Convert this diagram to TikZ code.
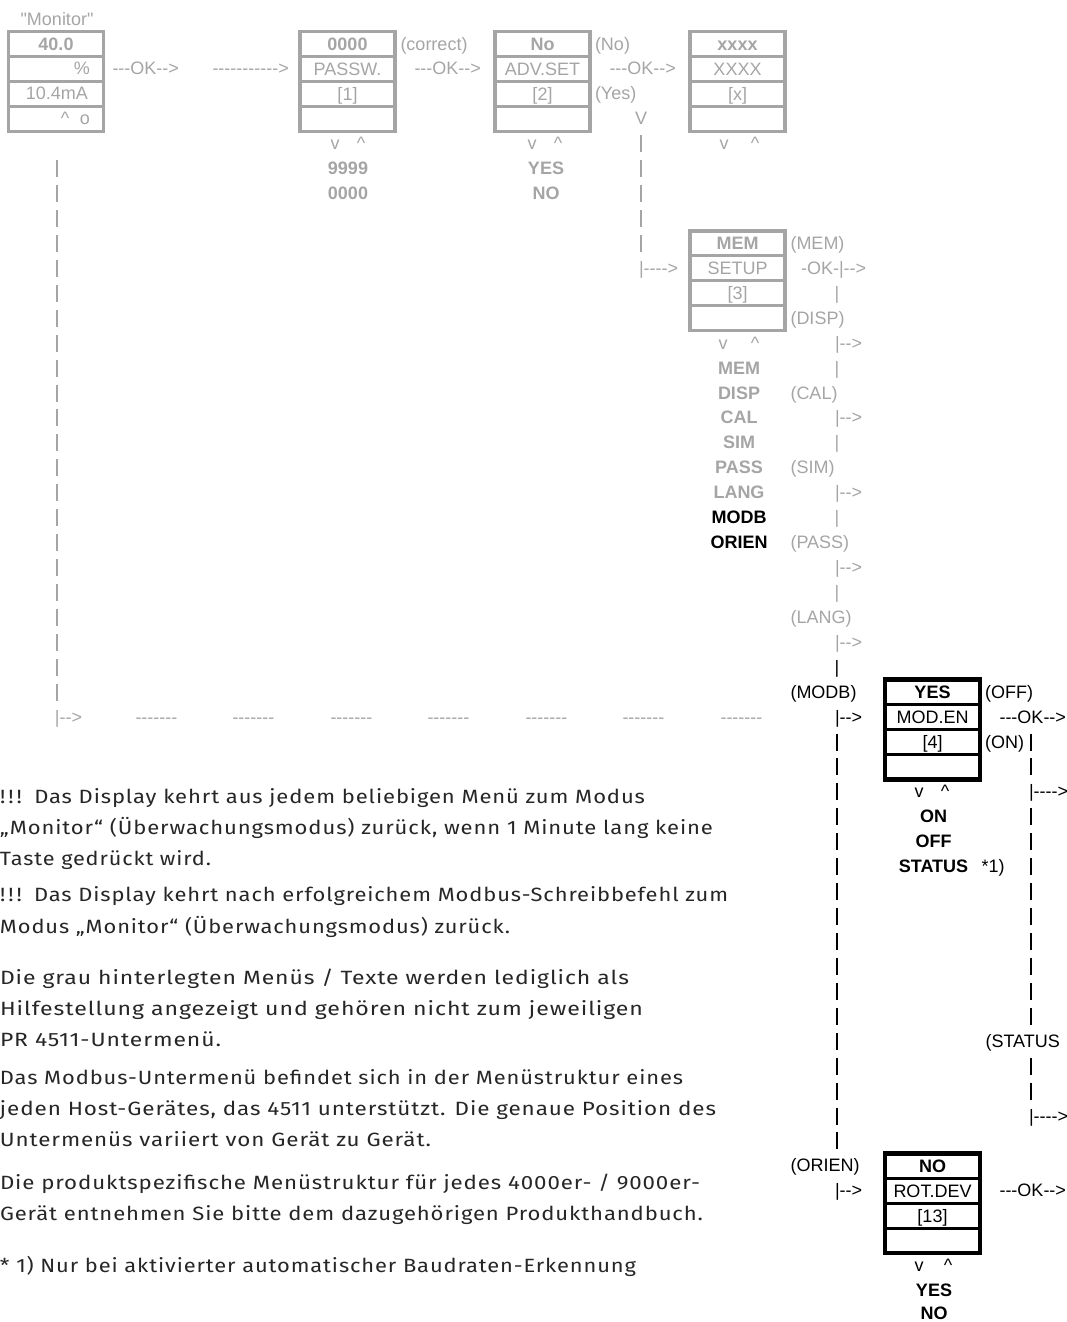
\documentclass[tikz,border=0pt]{standalone}
\usepackage{fontspec}
\newfontfamily\dg{Liberation Sans}
\newfontfamily\bodyf{Fira Sans}[LetterSpace=4]
\definecolor{gr}{HTML}{A5A5A5}
\definecolor{bodyc}{HTML}{262626}
\newdimen\ux \ux=0.75pt
\pgfmathdeclarefunction{rowc}{1}{\pgfmathparse{44+24.93*#1}}
\pgfmathdeclarefunction{rowb}{1}{\pgfmathparse{44+24.93*#1+6.0}}
\tikzset{
  t/.style={inner sep=0pt, outer sep=0pt, font=\dg\fontsize{13.5}{16}\selectfont, anchor=base},
  tw/.style={t, anchor=base west},
  g/.style={text=gr},
  k/.style={text=black},
  cell/.style={draw, outer sep=0pt, minimum width=71.25pt, minimum height=18.7pt, inner sep=0pt,
    text height=9.7pt, text depth=0pt, font=\dg\fontsize{13.5}{16}\selectfont},
  gcell/.style={cell, draw=gr, text=gr, line width=2.2pt},
  kcell/.style={cell, draw=black, text=black, line width=2.3pt},
  gframe/.style={draw=gr, line width=2.3pt},
  kframe/.style={draw=black, line width=3.4pt},
  grun/.style={draw=gr, line width=1pt, dash pattern=on 12.75pt off 5.95pt},
  krun/.style={draw=black, line width=1pt, dash pattern=on 12.75pt off 5.95pt},
  body/.style={inner sep=0pt, outer sep=0pt, anchor=base west, text=bodyc, font=\bodyf\fontsize{14.4}{17}\selectfont},
}
\newcommand\menubox[8]{%
  \node[#4cell] (#1a) at (#2,{rowc(#3)}) {\bfseries #5};
  \node[#4cell] (#1b) at (#2,{rowc(#3+1)}) {#6};
  \node[#4cell] (#1c) at (#2,{rowc(#3+2)}) {#7};
  \node[#4cell] (#1d) at (#2,{rowc(#3+3)}) {#8};
  \draw[#4frame] (#1a.north west) rectangle (#1d.south east);
}
\newcommand\bline[4]{\node[body] (#1) at (0,#2) {\resizebox{#3\ux}{\height}{#4}};}
\begin{document}
\begin{tikzpicture}[x=0.75pt,y=-0.75pt]
\useasboundingbox (0,0) rectangle (1067,1322);
% ---------- Monitor ----------
\node[t,g] (mon) at (57,{rowb(-1)}) {"Monitor"};
\menubox{m}{56}{0}{g}{40.0}{}{}{}
\node[t,g,anchor=base east] (mpct) at (90,{rowb(1)}) {\%};
\node[t,g,anchor=base east] (mma) at (88,{rowb(2)}) {10.4mA};
\node[t,g] (mup) at (65,{rowb(3)}) {\textasciicircum};
\node[t,g] (mo) at (85,{rowb(3)}) {o};
\node[tw,g] (ok1) at (112.5,{rowb(1)}) {---OK-->};
\node[tw,g] (ar1) at (212.5,{rowb(1)}) {----------->};
% ---------- PASSW ----------
\menubox{p}{347.5}{0}{g}{0000}{PASSW.}{[1]}{}
\node[tw,g] (pcor) at (400.5,{rowb(0)}) {(correct)};
\node[tw,g] (ok2) at (414.5,{rowb(1)}) {---OK-->};
\node[t,g] (pv) at (335,{rowb(4)}) {v};
\node[t,g] (pu) at (361,{rowb(4)}) {\textasciicircum};
\node[t,g] (p9) at (348,{rowb(5)}) {\bfseries 9999};
\node[t,g] (p0) at (348,{rowb(6)}) {\bfseries 0000};
% ---------- ADV.SET ----------
\menubox{a}{542.5}{0}{g}{No}{ADV.SET}{[2]}{}
\node[tw,g] (ano) at (595,{rowb(0)}) {(No)};
\node[tw,g] (ok3) at (609.5,{rowb(1)}) {---OK-->};
\node[tw,g] (ayes) at (595,{rowb(2)}) {(Yes)};
\node[t,g] (aV) at (641,{rowb(3)}) {V};
\node[t,g] (av) at (532,{rowb(4)}) {v};
\node[t,g] (au) at (558,{rowb(4)}) {\textasciicircum};
\node[t,g] (ay) at (546,{rowb(5)}) {\bfseries YES};
\node[t,g] (an) at (546,{rowb(6)}) {\bfseries NO};
\coordinate (c1a) at (641,{rowc(4)-8.5});
\coordinate (c1b) at (641,{rowc(8)+8.5});
\draw[grun] (c1a) -- (c1b);
\node[tw,g] (sin) at (639,{rowb(9)}) {|---->};
% ---------- xxxx ----------
\menubox{x}{737.5}{0}{g}{xxxx}{XXXX}{[x]}{}
\node[t,g] (xv) at (724,{rowb(4)}) {v};
\node[t,g] (xu) at (755,{rowb(4)}) {\textasciicircum};
% ---------- SETUP ----------
\menubox{s}{737.5}{8}{g}{MEM}{SETUP}{[3]}{}
\node[t,g] (sv) at (723,{rowb(12)}) {v};
\node[t,g] (su) at (755,{rowb(12)}) {\textasciicircum};
\foreach \r/\w in {13/MEM,14/DISP,15/CAL,16/SIM,17/PASS,18/LANG}
  \node[t,g] (sl\r) at (739,{rowb(\r)}) {\bfseries \w};
\node[t,k] (sl19) at (739,{rowb(19)}) {\bfseries MODB};
\node[t,k] (sl20) at (739,{rowb(20)}) {\bfseries ORIEN};
\node[tw,g] (lmem) at (790.5,{rowb(8)}) {(MEM)};
\node[tw,g] (lok) at (801,{rowb(9)}) {-OK-|-->};
\foreach \r/\w in {11/(DISP),14/(CAL),17/(SIM),20/(PASS),23/(LANG)}
  \node[tw,g] (lab\r) at (790.5,{rowb(\r)}) {\w};
\foreach \r in {10,13,16,19,22}
  \node[t,g] (bar\r) at (837,{rowb(\r)}) {|};
\foreach \r in {12,15,18,21,24}
  \node[tw,g] (arr\r) at (835,{rowb(\r)}) {|-->};
\node[t,k] (bar25) at (837,{rowb(25)}) {|};
\node[tw,k] (lmodb) at (790.5,{rowb(26)}) {(MODB)};
\node[tw,k] (arr27) at (835,{rowb(27)}) {|-->};
\coordinate (c2a) at (837,{rowc(28)-8.5});
\coordinate (c2b) at (837,{rowc(44)+8.5});
\draw[krun] (c2a) -- (c2b);
\node[tw,k] (lorien) at (790.5,{rowb(45)}) {(ORIEN)};
\node[tw,k] (arr46) at (835,{rowb(46)}) {|-->};
% ---------- left return line ----------
\coordinate (c0a) at (57,{rowc(5)-8.5});
\coordinate (c0b) at (57,{rowc(26)+8.5});
\draw[grun] (c0a) -- (c0b);
\node[tw,g] (ret) at (55,{rowb(27)}) {|-->};
\foreach \xx [count=\i] in {135.5,232.5,330.5,427.5,525.5,622.5,720.5}
  \node[tw,g] (hd\i) at (\xx,{rowb(27)}) {-------};
% ---------- MOD.EN ----------
\menubox{d}{932.5}{26}{k}{YES}{MOD.EN}{[4]}{}
\node[tw,k] (doff) at (985,{rowb(26)}) {(OFF)};
\node[tw,k] (dok) at (999.5,{rowb(27)}) {---OK-->};
\node[tw,k] (don) at (985,{rowb(28)}) {(ON)};
\coordinate (c3a) at (1031,{rowc(28)-8.5});
\coordinate (c3b) at (1031,{rowc(29)+8.5});
\draw[krun] (c3a) -- (c3b);
\node[tw,k] (dout1) at (1029,{rowb(30)}) {|---->};
\coordinate (c4a) at (1031,{rowc(31)-8.5});
\coordinate (c4b) at (1031,{rowc(39)+8.5});
\draw[krun] (c4a) -- (c4b);
\node[tw,k] (dst) at (985.5,{rowb(40)}) {(STATUS};
\coordinate (c5a) at (1031,{rowc(41)-8.5});
\coordinate (c5b) at (1031,{rowc(42)+8.5});
\draw[krun] (c5a) -- (c5b);
\node[tw,k] (dout2) at (1029,{rowb(43)}) {|---->};
\node[t,k] (dv) at (919,{rowb(30)}) {v};
\node[t,k] (du) at (945,{rowb(30)}) {\textasciicircum};
\node[t,k] (don2) at (933.5,{rowb(31)}) {\bfseries ON};
\node[t,k] (doff2) at (933.5,{rowb(32)}) {\bfseries OFF};
\node[t,k] (dstat) at (933.5,{rowb(33)}) {\bfseries STATUS};
\node[tw,k] (dstar) at (981.5,{rowb(33)}) {*1)};
% ---------- ROT.DEV ----------
\menubox{o}{932.5}{45}{k}{NO}{ROT.DEV}{[13]}{}
\node[tw,k] (ook) at (999.5,{rowb(46)}) {---OK-->};
\node[t,k] (ov) at (919,{rowb(49)}) {v};
\node[t,k] (ou) at (948,{rowb(49)}) {\textasciicircum};
\node[t,k] (oy) at (934,{rowb(50)}) {\bfseries YES};
\node[t,k] (on) at (934,1319.5) {\bfseries NO};
% ---------- notes ----------
\bline{n1}{803}{645}{!\kern2pt!\kern2pt!\kern8pt Das Display kehrt aus jedem beliebigen Menü zum Modus}
\bline{n2}{834}{713}{„Monitor“ (Überwachungsmodus) zurück, wenn 1 Minute lang keine}
\bline{n3}{865}{211}{Taste gedrückt wird.}
\bline{n4}{901.5}{728}{!\kern2pt!\kern2pt!\kern8pt Das Display kehrt nach erfolgreichem Modbus-Schreibbefehl zum}
\bline{n5}{933}{510}{Modus „Monitor“ (Überwachungsmodus) zurück.}
\bline{n6}{984.5}{629}{Die grau hinterlegten Menüs / Texte werden lediglich als}
\bline{n7}{1015.5}{643}{Hilfestellung angezeigt und gehören nicht zum jeweiligen}
\bline{n8}{1046.5}{221}{PR 4511-Untermenü.}
\bline{n9}{1084.5}{683}{Das Modbus-Untermenü befindet sich in der Menüstruktur eines}
\bline{n10}{1115.5}{716}{jeden Host-Gerätes, das 4511 unterstützt. Die genaue Position des}
\bline{n11}{1146.5}{431}{Untermenüs variiert von Gerät zu Gerät.}
\bline{n12}{1189.5}{700}{Die produktspezifische Menüstruktur für jedes 4000er- / 9000er-}
\bline{n13}{1220.5}{703}{Gerät entnehmen Sie bitte dem dazugehörigen Produkthandbuch.}
\bline{n14}{1272.5}{636}{* 1) Nur bei aktivierter automatischer Baudraten-Erkennung}
\end{tikzpicture}
\end{document}
